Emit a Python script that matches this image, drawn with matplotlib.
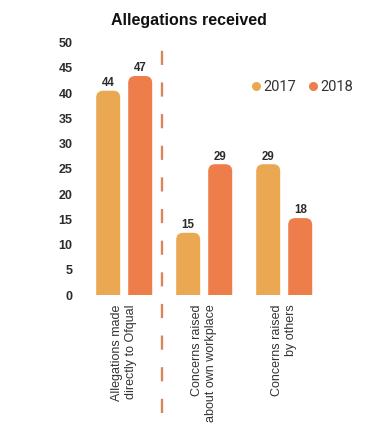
import matplotlib
matplotlib.use("Agg")
import matplotlib.pyplot as plt
from matplotlib.lines import Line2D
from matplotlib.patches import FancyBboxPatch
import numpy as np

categories = ["Allegations made\ndirectly to Ofqual",
              "Concerns raised\nabout own workplace",
              "Concerns raised\nby others"]
years = ["2017", "2018"]
values_2017 = [44, 15, 29]
values_2018 = [47, 29, 18]
y_ticks = [0, 5, 10, 15, 20, 25, 30, 35, 40, 45, 50]

COLORS = {
    "2017": "#EBA852",
    "2018": "#EE7D4C",
    "divider": "#D9865E",
    "ink": "#2b2b2b",
    "label": "#333333",
}

plt.rcParams.update({"font.family": ["Liberation Sans", "DejaVu Sans"]})

W, H = 372, 442
fig = plt.figure(figsize=(W / 100, H / 100), dpi=100)
fig.patch.set_facecolor("white")

left_px, right_px, top_px, bottom_px = 78, 350, 42.7, 295
rect = [left_px / W, 1 - bottom_px / H, (right_px - left_px) / W, (bottom_px - top_px) / H]

# visible value axis (ticks only)
ax = fig.add_axes(rect)
ax.set_ylim(0, 50)
ax.set_yticks(y_ticks)
ax.tick_params(axis="y", length=0, pad=4, labelsize=9, labelcolor=COLORS["ink"])
for t in ax.get_yticklabels():
    t.set_fontweight("bold")
for s in ax.spines.values():
    s.set_visible(False)

# bar axis, drawn on its own scale as in the original graphic
bx = fig.add_axes(rect, sharex=ax)
bx.patch.set_alpha(0)
bx.set_ylim(2.3, 53.8)
bx.set_yticks([])
for s in bx.spines.values():
    s.set_visible(False)

x = np.arange(len(categories))
xmin = -0.5775
ax.set_xlim(xmin, xmin + (right_px - left_px) / 80)
width = 0.3
offset = 0.2

fig.canvas.draw()
px_x = (right_px - left_px) / (ax.get_xlim()[1] - ax.get_xlim()[0])
px_y = (bottom_px - top_px) / (53.8 - 2.3)
aspect = px_x / px_y
radius = 7 / px_x

for vals, year, dx in [(values_2017, "2017", -offset), (values_2018, "2018", offset)]:
    bars = bx.bar(x + dx, vals, width, color=COLORS[year])
    for b, v in zip(bars, vals):
        b.set_visible(False)
        patch = FancyBboxPatch(
            (b.get_x(), b.get_y() - 5), b.get_width(), b.get_height() + 5,
            boxstyle=f"round,pad=0,rounding_size={radius}",
            mutation_aspect=aspect,
            facecolor=COLORS[year], edgecolor="none", clip_on=True,
        )
        bx.add_patch(patch)
        bx.annotate(str(v), (b.get_x() + b.get_width() / 2, v),
                    xytext=(0, 1.2), textcoords="offset points",
                    ha="center", va="bottom", fontsize=8.3,
                    fontweight="bold", color=COLORS["ink"])

ax.set_xticks(x)
ax.set_xticklabels(categories, rotation=90, ha="center", va="top",
                   multialignment="right", fontsize=9, color=COLORS["label"])
ax.tick_params(axis="x", length=0, pad=7)
bx.tick_params(axis="x", length=0, labelbottom=False)

# dashed divider
ax.axvline(0.47, ymin=-0.468, ymax=1.02, color=COLORS["divider"], lw=1.7,
           linestyle=(0, (6, 7.4)), clip_on=False)

handles = [Line2D([], [], marker="o", linestyle="none", markersize=6.5,
                  markerfacecolor=COLORS[y], markeredgecolor="none") for y in years]
ax.legend(handles, years, ncol=2, loc="center", frameon=False,
          bbox_to_anchor=(302 / W, 1 - 87.3 / H), bbox_transform=fig.transFigure,
          prop={"family": ["Roboto", "DejaVu Sans"], "size": 10.5},
          handlelength=0.7, handletextpad=0.15, columnspacing=0.8,
          borderpad=0, labelcolor=COLORS["label"])

fig.text(189 / W, 1 - 21 / H, "Allegations received", ha="center", va="center",
         fontsize=11.5, fontweight="bold", color="#111111")

fig.savefig("out.png", dpi=100)
